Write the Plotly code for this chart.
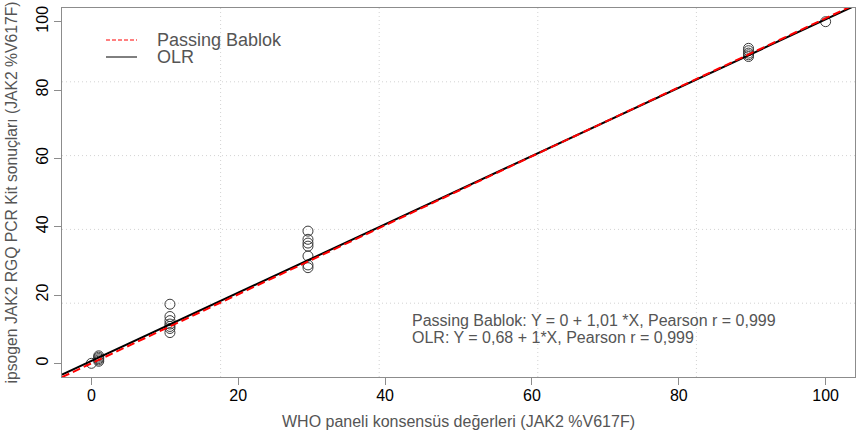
import plotly.graph_objects as go

# WHO panel consensus values (x) and ipsogen kit results (y)
who_x = [0, 1, 1, 1, 1, 1,
         10.7, 10.7, 10.7, 10.7, 10.7, 10.7, 10.7,
         29.5, 29.5, 29.5, 29.5, 29.5, 29.5, 29.5,
         89.5, 89.5, 89.5, 89.5, 89.5,
         100]
kit_y = [0, 0.6, 1.0, 1.4, 1.8, 2.2,
         17.3, 13.7, 12.5, 11.5, 10.8, 10.2, 9.0,
         38.7, 36.3, 35.2, 34.3, 31.4, 28.8, 28.0,
         92.2, 91.5, 90.8, 90.3, 89.8,
         100]

# regression lines
pb_intercept, pb_slope = 0.0, 1.01
olr_intercept, olr_slope = 0.68, 1.0

axis_range = [-4, 104]
tick_vals = [0, 20, 40, 60, 80, 100]
grid_cells = 5

legend_labels = ["Passing Bablok", "OLR"]
stats_text = ["Passing Bablok: Y = 0 + 1,01 *X, Pearson r = 0,999",
              "OLR: Y = 0,68 + 1*X, Pearson r = 0,999"]

x_title = "WHO paneli konsensüs değerleri (JAK2 %V617F)"
y_title = "ipsogen JAK2 RGQ PCR Kit sonuçları (JAK2 %V617F)"

FONT = "Liberation Sans, Arial, sans-serif"
GREY = "#555555"

fig = go.Figure()

fig.add_trace(go.Scatter(
    x=who_x, y=kit_y, mode="markers",
    marker=dict(symbol="circle-open", size=10, color="#3a3a3a", line=dict(width=1)),
    showlegend=False, hoverinfo="x+y"))

lx = axis_range
fig.add_trace(go.Scatter(
    x=lx, y=[olr_intercept + olr_slope * v for v in lx], mode="lines",
    line=dict(color="black", width=2), showlegend=False))
fig.add_trace(go.Scatter(
    x=lx, y=[pb_intercept + pb_slope * v for v in lx], mode="lines",
    line=dict(color="#ff0000", width=2, dash="8px,4px"), showlegend=False))

# grid lines (R grid(): evenly spaced across the plot region)
shapes = []
step = (axis_range[1] - axis_range[0]) / grid_cells
grid_line = dict(color="#d3d3d3", width=1, dash="1px,3px")
for k in range(1, grid_cells):
    g = axis_range[0] + k * step
    shapes.append(dict(type="line", xref="x", yref="paper", x0=g, x1=g, y0=0, y1=1,
                       line=grid_line, layer="below"))
    shapes.append(dict(type="line", xref="paper", yref="y", x0=0, x1=1, y0=g, y1=g,
                       line=grid_line, layer="below"))

# manual legend (R style, no box)
W, H = 856, 436
ml, mr, mt, mb = 62, 1, 8, 59
pw, ph = W - ml - mr, H - mt - mb
def px(xp):
    return (xp - ml) / pw
def py(yp):
    return 1 - (yp - mt) / ph

leg_styles = [dict(color="#ff0000", width=1, dash="4px,2px"), dict(color="black", width=1)]
leg_y = [40, 57]
annotations = []
for lab, st, yy in zip(legend_labels, leg_styles, leg_y):
    shapes.append(dict(type="line", xref="paper", yref="paper",
                       x0=px(106), x1=px(137), y0=py(yy), y1=py(yy), line=st))
    annotations.append(dict(text=lab, xref="paper", yref="paper", x=px(155), y=py(yy),
                            xanchor="left", yanchor="middle", showarrow=False,
                            font=dict(family=FONT, size=18, color=GREY)))

for i, t in enumerate(stats_text):
    annotations.append(dict(text=t, xref="x", yref="y", x=43.4, y=12.6 - 5.0 * i,
                            xanchor="left", yanchor="middle", showarrow=False,
                            font=dict(family=FONT, size=16, color=GREY)))

axis_common = dict(range=axis_range, tickvals=tick_vals, ticks="outside", ticklen=7,
                   tickcolor="#8c8c8c", showline=True, linecolor="#8c8c8c", linewidth=1,
                   mirror=True, showgrid=False, zeroline=False,
                   tickfont=dict(family=FONT, size=16, color="black"))

fig.update_layout(
    width=W, height=H, margin=dict(l=ml, r=mr, t=mt, b=mb, autoexpand=False),
    plot_bgcolor="white", paper_bgcolor="white",
    xaxis=dict(**axis_common, automargin=False, ticklabelstandoff=-3,
               title=dict(text=x_title, standoff=12,
                          font=dict(family=FONT, size=16, color=GREY))),
    yaxis=dict(**axis_common, automargin=False, tickangle=-90,
               title=dict(text=y_title, standoff=12,
                          font=dict(family=FONT, size=15.7, color=GREY))),
    shapes=shapes, annotations=annotations, showlegend=False,
)

fig.write_html("out.html", config={"displayModeBar": False},
               post_script="document.body.style.margin='0';document.body.style.overflow='hidden';")
